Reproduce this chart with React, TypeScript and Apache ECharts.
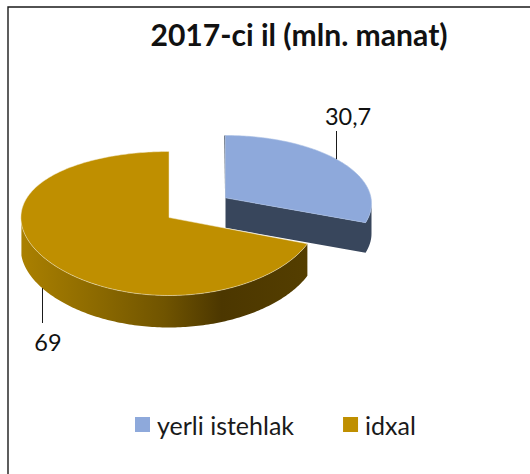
import React, { useEffect, useRef } from "react";
import * as echarts from "echarts";

const titleText = "2017-ci il (mln. manat)";
const categories = ["yerli istehlak", "idxal"];
const values = [30.7, 69];
const valueLabels = ["30,7", "69"];

const FONT = "Lato, Carlito, 'Open Sans', sans-serif";
const total = values[0] + values[1];
const sweep0 = (values[0] / total) * 360;
const rad = (d: number) => (d * Math.PI) / 180;
const K = -0.083;

type Geo = { cx: number; cy: number; rx: number; ry: number; depth: number; persp: boolean };
const geos: Geo[] = [
  { cx: 225.5, cy: 203.5, rx: 146, ry: 68, depth: 30, persp: true },
  { cx: 169, cy: 223.5, rx: 148.6, ry: 72, depth: 32, persp: false },
];

function rim(g: Geo, a: number): [number, number] {
  const u = Math.sin(rad(a));
  const v = -Math.cos(rad(a));
  const d = 1 + K * v;
  return [
    g.cx + (g.rx * u * Math.sqrt(1 - K * K)) / (g.persp ? d : 1),
    g.cy + (g.ry * (v + K)) / d,
  ];
}
const apex = (g: Geo): [number, number] => [g.cx, g.cy + g.ry * K];
function arc(g: Geo, a0: number, a1: number, dy = 0) {
  const pts: [number, number][] = [];
  const n = Math.max(2, Math.ceil(Math.abs(a1 - a0)));
  for (let i = 0; i <= n; i++) {
    const p = rim(g, a0 + ((a1 - a0) * i) / n);
    pts.push([p[0], p[1] + dy]);
  }
  return pts;
}
const toPath = (pts: number[][]) =>
  "M" + pts.map((p) => p[0].toFixed(2) + " " + p[1].toFixed(2)).join("L") + "Z";

const A_VIS0 = (Math.acos(K) * 180) / Math.PI;
const A_VIS1 = 360 - A_VIS0;

function leaderAndLabel(x: number, y0: number, y1: number, text: string, tx: number, ty: number) {
  return [
    { type: "line", silent: true, shape: { x1: x, y1: y0, x2: x, y2: y1 }, style: { stroke: "#1a1a1a", lineWidth: 1 } },
    {
      type: "text",
      silent: true,
      style: { text, x: tx, y: ty, fill: "#111", fontFamily: FONT, fontSize: 23.5, align: "center", verticalAlign: "middle" },
    },
  ];
}

function renderBlue(_: any, api: any) {
  const g = geos[0];
  const color = api.visual("color");
  const a1 = (api.value(0) / total) * 360;
  const ap = apex(g);
  const end = rim(g, a1);
  const start = rim(g, 0);
  const lead = rim(g, 53);
  return {
    type: "group",
    children: [
      { type: "path", shape: { pathData: toPath([[start[0] - 1.2, start[1]], [ap[0] - 0.4, ap[1]], ap, start]) }, style: { fill: "#38465c" } },
      {
        type: "path",
        shape: { pathData: toPath([ap, end, ...arc(g, a1, A_VIS0, 0), ...arc(g, A_VIS0, a1, g.depth), [ap[0], ap[1] + g.depth]]) },
        style: { fill: "#38465c" },
      },
      {
        type: "path",
        shape: { pathData: toPath([ap, ...arc(g, 0, a1)]) },
        style: { fill: color, stroke: "#a9bfe4", lineWidth: 0.6 },
      },
      ...leaderAndLabel(Math.round(lead[0]) + 0.5, lead[1], 131, valueLabels[0], 348, 116),
    ],
  };
}

function renderGold(_: any, api: any) {
  const g = geos[1];
  const color = api.visual("color");
  const a0 = sweep0;
  const a1 = a0 + (api.value(0) / total) * 360;
  const ap = apex(g);
  const lead = rim(g, (a0 + a1) / 2 + 3.5);
  const sideTop = arc(g, a0, A_VIS1);
  const sideBot = arc(g, A_VIS1, a0, g.depth);
  return {
    type: "group",
    children: [
      {
        type: "path",
        shape: { pathData: toPath([...sideTop, ...sideBot]) },
        style: {
          fill: new echarts.graphic.LinearGradient(0, 0, 1, 0, [
            { offset: 0, color: "#aa8000" },
            { offset: 0.28, color: "#8a6800" },
            { offset: 0.5, color: "#705400" },
            { offset: 0.7, color: "#4c3700" },
            { offset: 1, color: "#543e00" },
          ]),
        },
      },
      {
        type: "path",
        shape: { pathData: toPath([ap, ...arc(g, a0, a1)]) },
        style: { fill: color, stroke: "#f3ead0", lineWidth: 0.5 },
      },
      ...leaderAndLabel(Math.round(lead[0]) + 0.5, lead[1] + g.depth, 323, valueLabels[1], 48, 342),
    ],
  };
}

export default function App() {
  const ref = useRef<HTMLDivElement>(null);
  useEffect(() => {
    const chart = echarts.init(ref.current!, null, { renderer: "svg" });
    chart.setOption({
      animation: false,
      backgroundColor: "#fff",
      title: {
        text: titleText,
        left: 294,
        top: 14,
        textAlign: "center",
        textStyle: { fontFamily: FONT, fontWeight: "bold", fontSize: 30.1, color: "#111" },
      },
      legend: {
        data: categories,
        left: 130,
        top: 407,
        icon: "rect",
        itemWidth: 15,
        itemHeight: 15,
        itemGap: 49,
        selectedMode: false,
        textStyle: { fontFamily: FONT, fontSize: 25, color: "#1a1a1a", padding: [0, 0, 0, 2] },
      },
      graphic: [
        { type: "rect", silent: true, z: -1, shape: { x: 8, y: 7, width: 700, height: 700 }, style: { fill: "none", stroke: "#1a1a1a", lineWidth: 1.4 } },
      ],
      series: [
        { type: "custom", name: categories[0], coordinateSystem: "none", data: [[values[0]]], itemStyle: { color: "#8ea9db" }, renderItem: renderBlue },
        { type: "custom", name: categories[1], coordinateSystem: "none", data: [[values[1]]], itemStyle: { color: "#bf8f00" }, renderItem: renderGold },
      ],
    });
    return () => chart.dispose();
  }, []);
  return <div ref={ref} style={{ position: "fixed", left: 0, top: 0, width: 530, height: 474 }} />;
}
